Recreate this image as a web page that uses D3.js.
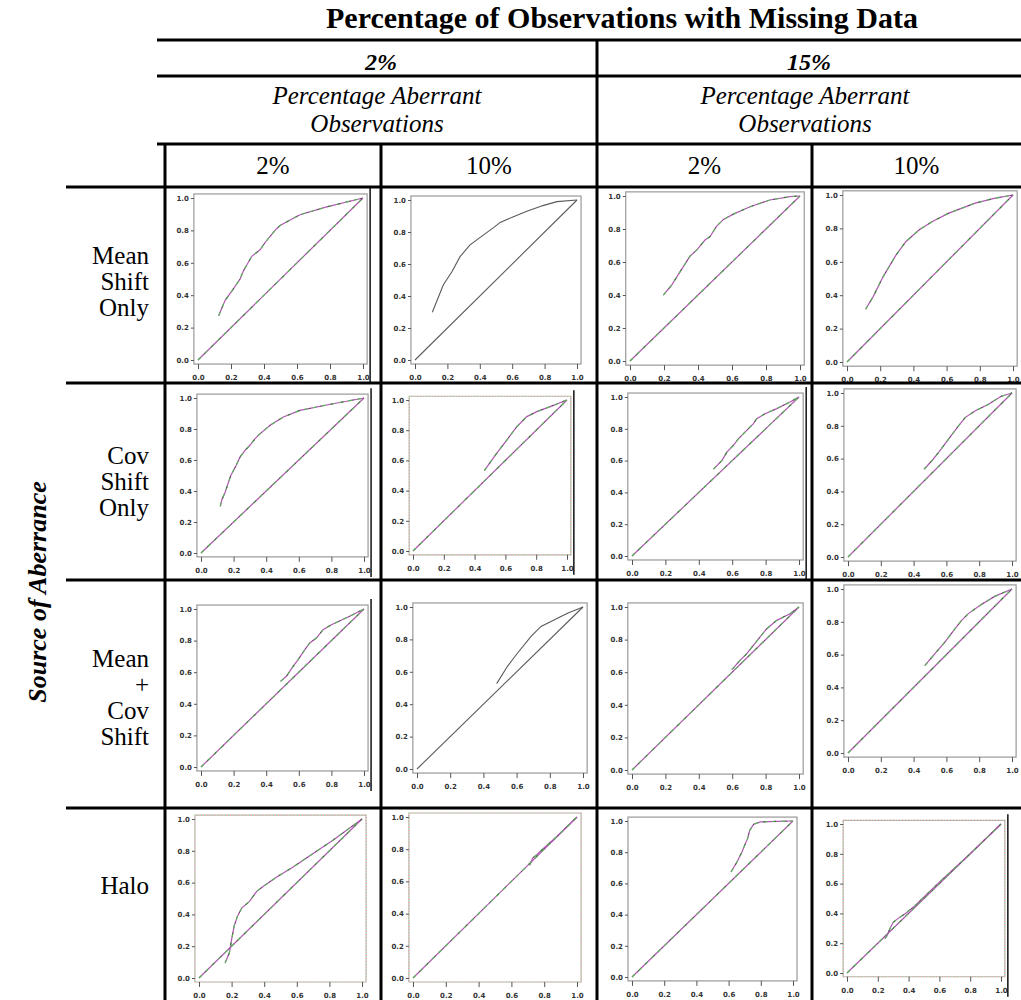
<!DOCTYPE html>
<html>
<head>
<meta charset="utf-8">
<script src="https://cdn.jsdelivr.net/npm/d3@7"></script>
<style>
body { margin: 0; background: #fff; }
svg { display: block; }
</style>
</head>
<body>
<script>
var w = 1021;
var h = 1000;

// header / label text
var titleText = "Percentage of Observations with Missing Data";
var missingLabels = ["2%", "15%"];
var aberrantTitle = ["Percentage Aberrant", "Observations"];
var aberrantLabels = ["2%", "10%", "2%", "10%"];
var rowLabels = [["Mean", "Shift", "Only"], ["Cov", "Shift", "Only"], ["Mean", "+", "Cov", "Shift"], ["Halo"]];
var sideTitle = "Source of Aberrance";
var ticks = [0, 0.2, 0.4, 0.6, 0.8, 1.0];

// reference diagonal
var refLine = [[0, 0], [1, 1]];

// curves [x, y]
var ms_m2_a2 = [[0.125,0.273],[0.165,0.37],[0.205,0.425],[0.255,0.5],[0.275,0.55],[0.326,0.64],[0.376,0.68],[0.41,0.73],[0.467,0.8],[0.497,0.83],[0.618,0.897],[0.78,0.945],[1,1]];
var ms_m2_a10 = [[0.107,0.298],[0.175,0.47],[0.227,0.55],[0.278,0.646],[0.34,0.72],[0.40,0.765],[0.485,0.827],[0.526,0.86],[0.608,0.896],[0.69,0.93],[0.79,0.965],[0.876,0.99],[1,1]];
var ms_m15_a2 = [[0.196,0.399],[0.245,0.46],[0.294,0.54],[0.353,0.636],[0.392,0.672],[0.441,0.733],[0.47,0.753],[0.51,0.818],[0.55,0.858],[0.608,0.89],[0.706,0.935],[0.823,0.976],[0.94,0.996],[1,1]];
var ms_m15_a10 = [[0.112,0.316],[0.157,0.39],[0.217,0.51],[0.295,0.64],[0.354,0.72],[0.433,0.79],[0.512,0.84],[0.61,0.89],[0.768,0.95],[0.886,0.98],[1,1]];
var cs_m2_a2 = [[0.118,0.301],[0.128,0.344],[0.149,0.394],[0.169,0.458],[0.183,0.5],[0.216,0.566],[0.24,0.62],[0.27,0.662],[0.3,0.695],[0.332,0.738],[0.363,0.77],[0.424,0.824],[0.505,0.877],[0.607,0.92],[0.81,0.963],[1,1]];
var cs_m2_a10 = [[0.463,0.532],[0.543,0.647],[0.609,0.735],[0.674,0.823],[0.739,0.89],[0.804,0.923],[0.891,0.956],[1,1]];
var cs_m15_a2 = [[0.488,0.546],[0.538,0.6],[0.568,0.653],[0.608,0.697],[0.638,0.738],[0.687,0.79],[0.727,0.833],[0.747,0.864],[0.797,0.895],[0.867,0.927],[0.946,0.969],[1,1]];
var cs_m15_a10 = [[0.464,0.535],[0.514,0.59],[0.554,0.64],[0.614,0.72],[0.674,0.8],[0.714,0.85],[0.774,0.89],[0.854,0.93],[0.934,0.98],[1,1]];
var mc_m2_a2 = [[0.488,0.542],[0.524,0.574],[0.565,0.637],[0.596,0.68],[0.637,0.743],[0.667,0.785],[0.708,0.816],[0.749,0.869],[0.8,0.9],[0.912,0.954],[1,1]];
var mc_m2_a10 = [[0.48,0.527],[0.545,0.634],[0.606,0.716],[0.687,0.819],[0.747,0.88],[0.828,0.922],[0.91,0.963],[1,1]];
var mc_m15_a2 = [[0.598,0.616],[0.647,0.673],[0.687,0.714],[0.727,0.765],[0.767,0.816],[0.807,0.867],[0.867,0.918],[0.946,0.959],[1,1]];
var mc_m15_a10 = [[0.468,0.533],[0.534,0.61],[0.594,0.68],[0.654,0.76],[0.694,0.81],[0.734,0.85],[0.804,0.9],[0.894,0.955],[1,1]];
var halo_m2_a2 = [[0.16,0.094],[0.186,0.157],[0.2,0.241],[0.215,0.325],[0.236,0.388],[0.262,0.44],[0.31,0.482],[0.354,0.545],[0.395,0.577],[0.477,0.635],[0.58,0.70],[0.682,0.77],[0.826,0.87],[1,1]];
var halo_m2_a10 = [[0.711,0.70],[0.73,0.745],[0.76,0.77],[0.79,0.8],[0.874,0.876],[1,1]];
var halo_m15_a2 = [[0.615,0.673],[0.652,0.737],[0.683,0.801],[0.704,0.855],[0.718,0.887],[0.731,0.94],[0.756,0.979],[0.797,0.994],[0.9,0.998],[1,1]];
var halo_m15_a10 = [[0.245,0.23],[0.26,0.25],[0.28,0.3],[0.3,0.34],[0.33,0.365],[0.38,0.4],[0.44,0.45],[0.5,0.51],[0.6,0.61],[0.7,0.705],[0.8,0.8],[1,1]];

var curves = [
    [ms_m2_a2, ms_m2_a10, ms_m15_a2, ms_m15_a10],
    [cs_m2_a2, cs_m2_a10, cs_m15_a2, cs_m15_a10],
    [mc_m2_a2, mc_m2_a10, mc_m15_a2, mc_m15_a10],
    [halo_m2_a2, halo_m2_a10, halo_m15_a2, halo_m15_a10]
];

// table layout
var colEdges = [165, 381, 597, 812, 1021];
var rowEdges = [187, 383, 580, 808, 1000];

// plot area of each pasted plot: [x at 0, x at 1, y at 1, y at 0]
var plotAreas = [
    [[198,363,198,360], [415,577,200,360], [630,800,196,361], [847,1013,195,362]],
    [[201,364,398,553], [413,567,400,551], [632,799,397,556], [848,1012,393,557]],
    [[201,364,609,767], [417,583,607,769], [632,799,607,770], [848,1012,589,753]],
    [[199,362,819,978], [413,577,817,978], [632,793,821,977], [847,1001,824,973]]
];
var grayPlots = ["0-1", "2-1"];
var dottedFrames = ["1-1", "3-0", "3-1", "3-3"];
var edgeLines = ["0-0", "1-0", "1-1", "1-2", "2-0", "3-3"];

var serif = "'Liberation Serif', 'Times New Roman', serif";

var svg = d3.select("body")
    .append("svg")
    .attr("width", w)
    .attr("height", h);

svg.append("rect").attr("width", w).attr("height", h).attr("fill", "white");

// small plots
var line = d3.line();
curves.forEach(function(row, r) {
    row.forEach(function(curve, c) {
        var a = plotAreas[r][c];
        var key = r + "-" + c;
        var x = d3.scaleLinear().domain([0, 1]).range([a[0], a[1]]);
        var y = d3.scaleLinear().domain([0, 1]).range([a[3], a[2]]);
        var bx0 = x(-0.025), bx1 = x(1.025), by0 = y(-0.025), by1 = y(1.025);
        var g = svg.append("g");

        var isDotted = dottedFrames.indexOf(key) >= 0;
        g.append("rect")
            .attr("x", bx0).attr("y", by1)
            .attr("width", bx1 - bx0).attr("height", by0 - by1)
            .attr("fill", "none")
            .attr("stroke", isDotted ? "#9c8" : "#999")
            .attr("stroke-width", 1.2)
            .attr("stroke-dasharray", isDotted ? "1.5,1.5" : null);
        if (isDotted) {
            g.append("rect")
                .attr("x", bx0).attr("y", by1)
                .attr("width", bx1 - bx0).attr("height", by0 - by1)
                .attr("fill", "none")
                .attr("stroke", "#c8a")
                .attr("stroke-width", 1.2)
                .attr("stroke-dasharray", "1.5,1.5")
                .attr("stroke-dashoffset", 1.5);
        }

        var yAxis = d3.axisLeft(y).tickValues(ticks).tickFormat(d3.format(".1f")).tickSize(3).tickPadding(2);
        var xAxis = d3.axisBottom(x).tickValues(ticks).tickFormat(d3.format(".1f")).tickSize(5).tickPadding(6);
        var ya = g.append("g").attr("transform", "translate(" + bx0 + ",0)").call(yAxis);
        var xa = g.append("g").attr("transform", "translate(0," + by0 + ")").call(xAxis);
        [ya, xa].forEach(function(ax) {
            ax.select(".domain").remove();
            ax.selectAll("line").attr("stroke", "#555");
            ax.selectAll("text")
                .attr("fill", "#333")
                .style("font-family", "'DejaVu Sans', sans-serif")
                .style("font-size", "7px")
                .style("font-weight", "bold");
        });

        var gray = grayPlots.indexOf(key) >= 0;
        [refLine, curve].forEach(function(d) {
            var pd = line(d.map(function(p) { return [x(p[0]), y(p[1])]; }));
            if (gray) {
                g.append("path").attr("d", pd)
                    .attr("fill", "none").attr("stroke", "#5a5a5a").attr("stroke-width", 1.1);
            } else {
                g.append("path").attr("d", pd)
                    .attr("fill", "none").attr("stroke", "#b455b4").attr("stroke-width", 1.2);
                g.append("path").attr("d", pd)
                    .attr("fill", "none").attr("stroke", "#55b455").attr("stroke-width", 1.2)
                    .attr("stroke-dasharray", "4,5");
                g.append("path").attr("d", pd)
                    .attr("fill", "none").attr("stroke", "#333").attr("stroke-width", 0.6)
                    .attr("stroke-dasharray", "2,9").attr("stroke-dashoffset", 3);
            }
        });

        if (edgeLines.indexOf(key) >= 0) {
            g.append("line")
                .attr("x1", bx1 + 3).attr("x2", bx1 + 3)
                .attr("y1", by1 - 6).attr("y2", Math.min(by0 + 20, h))
                .attr("stroke", "#111").attr("stroke-width", 1.5);
        }
    });
});

// table rules
var rules = svg.append("g").attr("stroke", "black").attr("stroke-width", 3);
[40, 76, 144].forEach(function(yy) {
    rules.append("line").attr("x1", 157).attr("x2", w).attr("y1", yy).attr("y2", yy);
});
rowEdges.slice(0, 4).forEach(function(yy) {
    rules.append("line").attr("x1", 66).attr("x2", w).attr("y1", yy).attr("y2", yy);
});
rules.append("line").attr("x1", colEdges[2]).attr("x2", colEdges[2]).attr("y1", 40).attr("y2", h);
[colEdges[0], colEdges[1], colEdges[3]].forEach(function(xx) {
    rules.append("line").attr("x1", xx).attr("x2", xx).attr("y1", 144).attr("y2", h);
});

// header texts
svg.append("text")
    .attr("x", 622).attr("y", 28)
    .attr("text-anchor", "middle")
    .style("font-family", serif).style("font-size", "30px").style("font-weight", "bold")
    .text(titleText);

missingLabels.forEach(function(t, i) {
    var cx = (colEdges[i * 2] + colEdges[i * 2 + 2]) / 2;
    svg.append("text")
        .attr("x", cx).attr("y", 70)
        .attr("text-anchor", "middle")
        .style("font-family", serif).style("font-size", "24px")
        .style("font-weight", "bold").style("font-style", "italic")
        .text(t);
    aberrantTitle.forEach(function(s, j) {
        svg.append("text")
            .attr("x", cx - 4).attr("y", 104 + j * 28)
            .attr("text-anchor", "middle")
            .style("font-family", serif).style("font-size", "25px").style("font-style", "italic")
            .text(s);
    });
});

aberrantLabels.forEach(function(t, i) {
    svg.append("text")
        .attr("x", (colEdges[i] + colEdges[i + 1]) / 2).attr("y", 174)
        .attr("text-anchor", "middle")
        .style("font-family", serif).style("font-size", "25px")
        .text(t);
});

// row labels
var rowCenters = [282, 482, 698, 886];
rowLabels.forEach(function(lines, r) {
    var step = 26;
    var top = rowCenters[r] - (lines.length - 1) * step / 2;
    lines.forEach(function(s, j) {
        svg.append("text")
            .attr("x", 149).attr("y", top + j * step + 8)
            .attr("text-anchor", "end")
            .style("font-family", serif).style("font-size", "25px")
            .text(s);
    });
});

svg.append("text")
    .attr("transform", "translate(46,592) rotate(-90)")
    .attr("text-anchor", "middle")
    .style("font-family", serif).style("font-size", "26px")
    .style("font-weight", "bold").style("font-style", "italic")
    .text(sideTitle);
</script>
</body>
</html>
